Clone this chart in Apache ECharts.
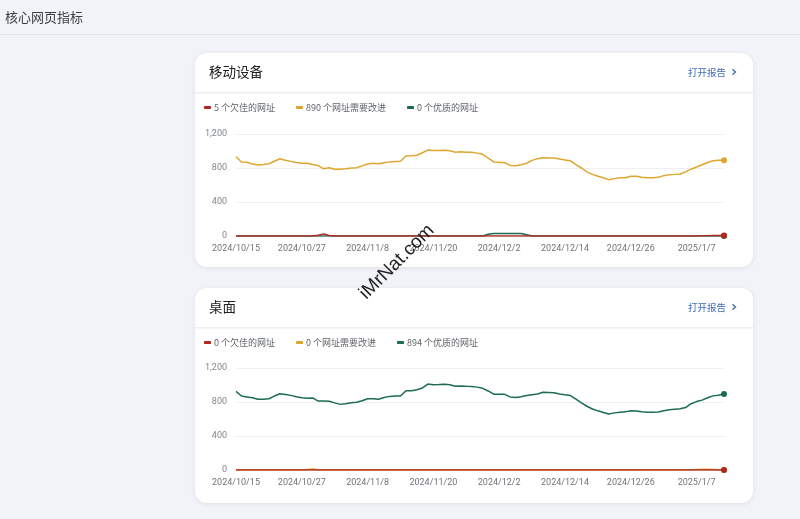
<!DOCTYPE html>
<html>
<head>
<meta charset="utf-8">
<script src="https://cdn.jsdelivr.net/npm/echarts@6/dist/echarts.min.js"></script>
<style>
html,body{margin:0;padding:0;background:#f1f3f9;}
#c{width:800px;height:519px;}
</style>
</head>
<body>
<div id="c"></div>
<script>
const dates = [
 "2024/10/15","2024/10/16","2024/10/17","2024/10/18","2024/10/19","2024/10/20","2024/10/21","2024/10/22","2024/10/23","2024/10/24",
 "2024/10/25","2024/10/26","2024/10/27","2024/10/28","2024/10/29","2024/10/30","2024/10/31","2024/11/1","2024/11/2","2024/11/3",
 "2024/11/4","2024/11/5","2024/11/6","2024/11/7","2024/11/8","2024/11/9","2024/11/10","2024/11/11","2024/11/12","2024/11/13",
 "2024/11/14","2024/11/15","2024/11/16","2024/11/17","2024/11/18","2024/11/19","2024/11/20","2024/11/21","2024/11/22","2024/11/23",
 "2024/11/24","2024/11/25","2024/11/26","2024/11/27","2024/11/28","2024/11/29","2024/11/30","2024/12/1","2024/12/2","2024/12/3",
 "2024/12/4","2024/12/5","2024/12/6","2024/12/7","2024/12/8","2024/12/9","2024/12/10","2024/12/11","2024/12/12","2024/12/13",
 "2024/12/14","2024/12/15","2024/12/16","2024/12/17","2024/12/18","2024/12/19","2024/12/20","2024/12/21","2024/12/22","2024/12/23",
 "2024/12/24","2024/12/25","2024/12/26","2024/12/27","2024/12/28","2024/12/29","2024/12/30","2024/12/31","2025/1/1","2025/1/2",
 "2025/1/3","2025/1/4","2025/1/5","2025/1/6","2025/1/7","2025/1/8","2025/1/9","2025/1/10","2025/1/11","2025/1/12"
];

// 移动设备
const mobilePoor = [
 0,0,0,0,0,0,0,0,0,0,
 0,0,0,0,0,8,25,6,0,0,
 0,0,0,0,0,0,0,0,0,0,
 0,0,0,0,0,0,0,0,0,0,
 0,0,0,0,0,0,0,0,0,0,
 0,0,0,0,0,0,0,0,0,0,
 0,0,0,0,0,0,0,0,0,0,
 0,0,0,0,0,0,0,0,0,0,
 0,0,0,0,0,3,4,5,5,5
];
const mobileImprove = [
 933,870,867,847,835,840,850,880,909,892,
 878,865,855,855,840,828,790,803,786,784,
 790,800,803,825,848,855,851,862,872,876,
 880,941,943,950,980,1011,1005,1005,1008,1002,
 986,992,986,984,975,961,915,872,868,862,
 830,827,838,856,890,910,921,919,917,905,
 894,884,840,800,755,725,703,686,663,675,
 684,686,703,702,690,684,684,690,710,722,
 725,730,755,786,812,838,865,885,890,890
];
const mobileGood = [
 0,0,0,0,0,0,0,0,0,0,
 0,0,0,0,0,0,0,0,0,0,
 0,0,0,0,0,0,0,0,0,0,
 0,0,0,0,0,0,0,0,0,0,
 0,0,0,0,0,0,20,30,30,30,
 30,30,30,15,0,0,0,0,0,0,
 0,0,0,0,0,0,0,0,0,0,
 0,0,0,0,0,0,0,0,0,0,
 0,0,0,0,0,0,0,0,0,0
];

// 桌面
const desktopPoor = [
 0,0,0,0,0,0,0,0,0,0,
 0,0,0,0,0,0,0,0,0,0,
 0,0,0,0,0,0,0,0,0,0,
 0,0,0,0,0,0,0,0,0,0,
 0,0,0,0,0,0,0,0,0,0,
 0,0,0,0,0,0,0,0,0,0,
 0,0,0,0,0,0,0,0,0,0,
 0,0,0,0,0,0,0,0,0,0,
 0,0,0,0,0,0,0,0,0,0
];
const desktopImprove = [
 0,0,0,0,0,0,0,0,0,0,
 0,0,0,5,12,4,0,0,0,0,
 0,0,0,0,0,0,0,0,0,0,
 0,0,0,0,0,0,0,0,0,0,
 0,0,0,0,0,0,0,0,0,0,
 0,0,0,0,0,0,0,0,0,0,
 0,0,0,0,0,0,0,0,0,0,
 0,0,0,0,0,0,0,0,0,0,
 0,0,0,4,6,8,8,6,3,0
];
const desktopGood = [
 925,870,860,850,832,831,838,870,897,888,
 878,862,850,843,848,811,811,808,790,772,
 780,792,796,815,839,839,833,852,866,870,
 870,933,933,945,965,1011,1004,1005,1008,1002,
 985,988,984,982,975,961,930,892,890,890,
 860,853,862,877,886,895,914,912,909,895,
 884,876,835,790,750,718,696,677,660,672,
 680,684,698,694,686,680,680,682,698,708,
 715,720,735,780,805,822,850,872,880,894
];

const mobileNames = ["5 个欠佳的网址", "890 个网址需要改进", "0 个优质的网址"];
const desktopNames = ["0 个欠佳的网址", "0 个网址需要改进", "894 个优质的网址"];
const cardTitles = ["移动设备", "桌面"];
const pageTitle = "核心网页指标";
const linkText = "打开报告";
const yTickValues = [0, 400, 800, 1200];
const yTickLabels = ["0", "400", "800", "1,200"];
const watermark = "iMrNat.com";

const RED = "#b3261e", YELLOW = "#dea62e", GREEN = "#1d6b50";
const LINK = "#3f6fb8";

function withEndDot(arr) {
  return arr.map((v, i) => i === arr.length - 1 ? {value: v, symbol: 'circle', symbolSize: 6} : v);
}

const chart = echarts.init(document.getElementById('c'), null, {renderer: 'canvas', width: 800, height: 519});

const cards = [
  {top: 53, bottom: 267, title: 72, sep: 92, legend: 103, gridTop: 134, gridH: 102},
  {top: 288, bottom: 503, title: 307, sep: 327, legend: 338, gridTop: 368, gridH: 102}
];

const graphics = [
  {type: 'text', left: 5, top: 11, style: {text: pageTitle, fill: '#3c4043', font: '13px "Noto Sans CJK SC", sans-serif'}},
  {type: 'rect', shape: {x: 0, y: 34, width: 800, height: 1}, style: {fill: '#e3e6ee'}}
];
cards.forEach((c, k) => {
  graphics.push({type: 'rect', z: -1, shape: {x: 195, y: c.top, width: 558, height: c.bottom - c.top, r: 12},
    style: {fill: '#ffffff', shadowBlur: 4, shadowColor: 'rgba(60,64,67,0.10)', shadowOffsetY: 1}});
  graphics.push({type: 'rect', shape: {x: 195, y: c.sep, width: 558, height: 1.5}, style: {fill: '#eceef1'}});
  graphics.push({type: 'text', x: 209, y: c.title, style: {text: cardTitles[k], fill: '#202124',
    font: '13.5px "Noto Sans CJK SC", sans-serif', verticalAlign: 'middle'}});
  graphics.push({type: 'text', x: 688, y: c.title, style: {text: linkText, fill: LINK,
    font: '9.5px "Noto Sans CJK SC", sans-serif', verticalAlign: 'middle'}});
  graphics.push({type: 'polyline', shape: {points: [[732.5, c.title - 2.8], [735.5, c.title], [732.5, c.title + 2.8]]},
    style: {stroke: LINK, lineWidth: 1.4, fill: null}});
});
graphics.push({type: 'text', x: 397, y: 262, rotation: Math.PI / 4, z: 100,
  style: {text: watermark, fill: '#1f1f1f', font: '19px "Liberation Sans", Arial, sans-serif', align: 'center', verticalAlign: 'middle'}});

function xAxis(gi) {
  return {type: 'category', gridIndex: gi, data: dates, boundaryGap: false,
    axisTick: {show: false}, axisLine: {show: true, lineStyle: {color: '#dadce0'}},
    axisLabel: {interval: 11, fontSize: 9, color: '#70757a', margin: 8, fontFamily: 'Roboto, sans-serif'}};
}
function yAxis(gi) {
  return {type: 'value', gridIndex: gi, min: 0, max: 1200, interval: 400,
    axisLine: {show: false}, axisTick: {show: false},
    splitLine: {lineStyle: {color: '#efefef'}},
    axisLabel: {fontSize: 9, color: '#80868b', margin: 9, fontFamily: 'Roboto, sans-serif',
      formatter: v => yTickLabels[yTickValues.indexOf(v)]}};
}
function lineSeries(name, data, color, gi, z) {
  return {type: 'line', name: name, xAxisIndex: gi, yAxisIndex: gi, data: withEndDot(data),
    symbol: 'none', showAllSymbol: true, z: z, silent: true, animation: false,
    lineStyle: {color: color, width: 1.5}, itemStyle: {color: color}};
}
function legend(names, top) {
  return {data: names, left: 204, top: top, icon: 'roundRect', itemWidth: 7, itemHeight: 3, itemGap: 21,
    padding: 0, selectedMode: false,
    textStyle: {fontSize: 9, color: '#5f6368', padding: [0, 0, 0, -2], fontFamily: '"Noto Sans CJK SC", sans-serif'}};
}

chart.setOption({
  animation: false,
  graphic: graphics,
  legend: [legend(mobileNames, cards[0].legend), legend(desktopNames, cards[1].legend)],
  grid: [
    {left: 236, right: 76, top: cards[0].gridTop, height: cards[0].gridH},
    {left: 236, right: 76, top: cards[1].gridTop, height: cards[1].gridH}
  ],
  xAxis: [xAxis(0), xAxis(1)],
  yAxis: [yAxis(0), yAxis(1)],
  series: [
    lineSeries(mobileNames[2], mobileGood, GREEN, 0, 3),
    lineSeries(mobileNames[1], mobileImprove, YELLOW, 0, 4),
    lineSeries(mobileNames[0], mobilePoor, RED, 0, 5),
    lineSeries(desktopNames[2], desktopGood, GREEN, 1, 3),
    lineSeries(desktopNames[1], desktopImprove, YELLOW, 1, 4),
    lineSeries(desktopNames[0], desktopPoor, RED, 1, 5)
  ]
});
</script>
</body>
</html>
